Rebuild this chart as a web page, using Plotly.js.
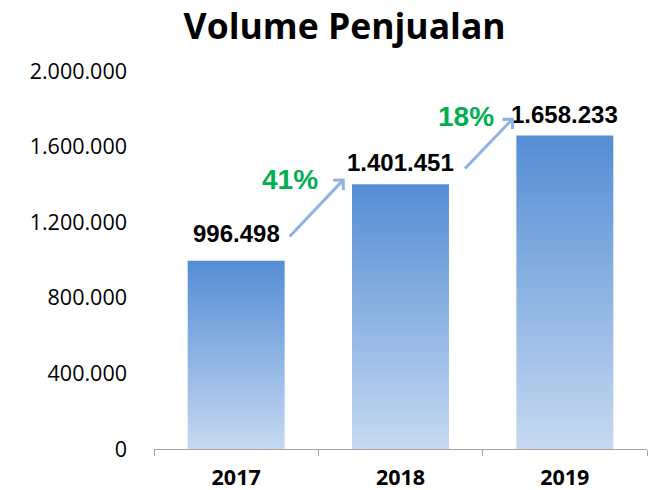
<!DOCTYPE html>
<html>
<head>
<meta charset="utf-8">
<script src="https://cdn.plot.ly/plotly-3.0.1.min.js"></script>
<style>html,body{margin:0;padding:0;background:#fff}#chart{width:654px;height:490px}</style>
</head>
<body>
<div id="chart"></div>
<script>
var years = ['2017', '2018', '2019'];
var volumes = [996498, 1401451, 1658233];
var growthLabels = ['41%', '18%'];
var yTicks = [0, 400000, 800000, 1200000, 1600000, 2000000];

function fmt(v) { return String(v).replace(/\B(?=(\d{3})+(?!\d))/g, '.'); }

var half = 0.295;
var labelShift = [27, 22, 21];
var traces = [];
years.forEach(function (yr, i) {
  var v = volumes[i];
  traces.push({
    type: 'scatter', mode: 'lines', fill: 'toself',
    x: [i - half, i + half, i + half, i - half, i - half],
    y: [0, 0, v, v, 0],
    line: {width: 0, color: 'rgba(0,0,0,0)'},
    fillgradient: {type: 'vertical', colorscale: [[0, '#C6D9F1'], [1, '#548DD5']]},
    hoverinfo: 'skip', showlegend: false
  });
});
// invisible trace to anchor the label axis
traces.push({type: 'scatter', mode: 'markers', x: [0, 1, 2], y: [0, 0, 0], xaxis: 'x2',
  marker: {opacity: 0}, hoverinfo: 'skip', showlegend: false});

var annotations = [];
years.forEach(function (yr, i) {
  annotations.push({
    x: i, y: volumes[i], xref: 'x', yref: 'y', text: fmt(volumes[i]),
    showarrow: false, yanchor: 'middle', yshift: labelShift[i],
    font: {family: 'Liberation Sans, Arial, sans-serif', size: 24, color: '#000', weight: 'bold'}
  });
});
// growth arrows between bars
var arrowDefs = [
  {tx: 0.317, ty: volumes[0] + 120000, hx: 0.66, hy: volumes[1] + 30000, lx: 0.33, ly: volumes[1] + 25000},
  {tx: 1.384, ty: volumes[1] + 75000, hx: 1.69, hy: volumes[2] + 95000, lx: 1.40, ly: volumes[2] + 100000}
];
arrowDefs.forEach(function (a, k) {
  annotations.push({
    x: a.hx, y: a.hy, ax: a.tx, ay: a.ty, xref: 'x', yref: 'y', axref: 'x', ayref: 'y',
    text: '', showarrow: true, arrowhead: 4, arrowsize: 0.9, arrowwidth: 3, arrowcolor: '#8DB3E2'
  });
  annotations.push({
    x: a.lx, y: a.ly, xref: 'x', yref: 'y', text: growthLabels[k], showarrow: false,
    font: {family: 'Liberation Sans, Arial, sans-serif', size: 28, color: '#00B050', weight: 'bold'}
  });
});

var layout = {
  width: 654, height: 490,
  margin: {l: 154, r: 7, t: 71, b: 41},
  paper_bgcolor: '#fff', plot_bgcolor: '#fff',
  separators: ',.',
  title: {text: 'Volume Penjualan', x: 0.527, xanchor: 'center', y: 0.945, yanchor: 'middle',
    font: {family: 'Open Sans, sans-serif', size: 35.5, color: '#000', weight: 'bold'}},
  xaxis: {
    range: [-0.5, 2.5], tickvals: [-0.5, 0.5, 1.5, 2.5], ticktext: ['', '', '', ''],
    ticks: 'outside', ticklen: 6, tickcolor: '#A6A6A6', tickwidth: 1,
    showline: true, linecolor: '#A6A6A6', linewidth: 1, showgrid: false, zeroline: false, fixedrange: true
  },
  xaxis2: {
    overlaying: 'x', matches: 'x', side: 'bottom', range: [-0.5, 2.5],
    tickvals: [0, 1, 2], ticktext: years, ticks: '', showline: false, showgrid: false, zeroline: false,
    ticklabelstandoff: 13,
    tickfont: {family: 'Open Sans, sans-serif', size: 21.5, color: '#000', weight: 'bold'}
  },
  yaxis: {
    range: [0, 2000000], tickvals: yTicks, tickformat: ',d',
    showgrid: false, zeroline: false, showline: false, ticks: '',
    ticklabelstandoff: 26,
    tickfont: {family: 'Open Sans, sans-serif', size: 21.5, color: '#000'}
  },
  annotations: annotations,
  showlegend: false
};

Plotly.newPlot('chart', traces, layout, {displayModeBar: false, staticPlot: true});
</script>
</body>
</html>
